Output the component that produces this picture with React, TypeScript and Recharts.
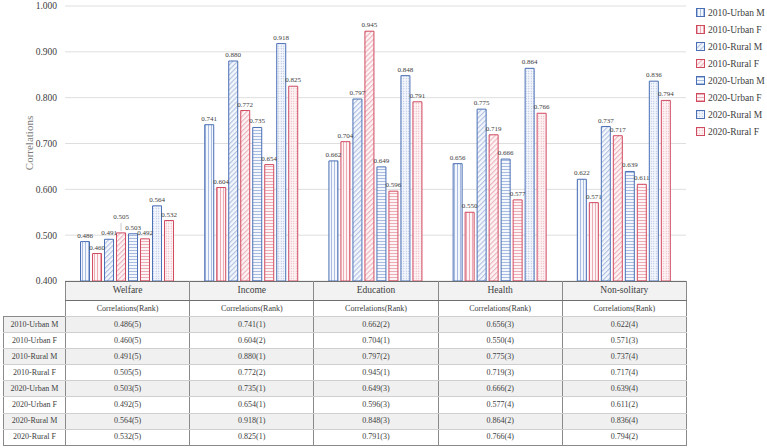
import { BarChart, Bar, YAxis, XAxis, CartesianGrid, LabelList } from 'recharts'

const categories = ['Welfare', 'Income', 'Education', 'Health', 'Non-solitary']
const seriesNames = [
  '2010-Urban M',
  '2010-Urban F',
  '2010-Rural M',
  '2010-Rural F',
  '2020-Urban M',
  '2020-Urban F',
  '2020-Rural M',
  '2020-Rural F',
]

const urbanM2010 = [0.486, 0.741, 0.662, 0.656, 0.622]
const urbanF2010 = [0.46, 0.604, 0.704, 0.55, 0.571]
const ruralM2010 = [0.491, 0.88, 0.797, 0.775, 0.737]
const ruralF2010 = [0.505, 0.772, 0.945, 0.719, 0.717]
const urbanM2020 = [0.503, 0.735, 0.649, 0.666, 0.639]
const urbanF2020 = [0.492, 0.654, 0.596, 0.577, 0.611]
const ruralM2020 = [0.564, 0.918, 0.848, 0.864, 0.836]
const ruralF2020 = [0.532, 0.825, 0.791, 0.766, 0.794]

const seriesValues = [urbanM2010, urbanF2010, ruralM2010, ruralF2010, urbanM2020, urbanF2020, ruralM2020, ruralF2020]

const seriesRanks = [
  [5, 1, 2, 3, 4],
  [5, 2, 1, 4, 3],
  [5, 1, 2, 3, 4],
  [5, 2, 1, 3, 4],
  [5, 1, 3, 2, 4],
  [5, 1, 3, 4, 2],
  [5, 1, 3, 2, 4],
  [5, 1, 3, 4, 2],
]

const yTicks = [0.4, 0.5, 0.6, 0.7, 0.8, 0.9, 1.0]

const FONT = '"Liberation Serif", "Times New Roman", serif'
const BLUE = '#4a6fb5'
const RED = '#d04a60'
const BLUE_LIGHT = '#9fb4dd'
const RED_LIGHT = '#eba3ae'
const BLUE_BG = '#f4f7fc'
const RED_BG = '#fdf4f5'

const seriesColor = (i: number) => (i % 2 === 0 ? 'b' : 'r')
const seriesPattern = ['vline', 'vline', 'diag', 'diag', 'hline', 'hline', 'dots', 'dots']

const data = categories.map((name, ci) => {
  const row: Record<string, string | number> = { name }
  seriesNames.forEach((s, si) => {
    row[s] = seriesValues[si][ci]
  })
  return row
})

// a label is lifted (with a leader line) when it is a local peak that crowds a neighbour
const CLASH = 0.0175
function isLifted(si: number, ci: number) {
  const v = seriesValues[si][ci]
  const prev = si > 0 ? seriesValues[si - 1][ci] : -1
  const next = si < seriesValues.length - 1 ? seriesValues[si + 1][ci] : -1
  const crowds = Math.abs(v - prev) < CLASH || Math.abs(v - next) < CLASH
  return crowds && v >= prev && v >= next
}

function makeLabel(si: number) {
  return function BarLabel(props: any) {
    const { x, y, width, value, index } = props
    const cx = Number(x) + Number(width) / 2
    const top = Number(y)
    const lift = isLifted(si, index) ? 10 : 0
    return (
      <g>
        {lift > 0 && <line x1={cx} y1={top - 2} x2={cx} y2={top - 2 - lift + 2} stroke="#a6a6a6" strokeWidth={0.6} />}
        <text
          x={cx}
          y={top - 4 - lift}
          textAnchor="middle"
          fontSize={7}
          fill="#404040"
          fontFamily={FONT}
        >
          {Number(value).toFixed(3)}
        </text>
      </g>
    )
  }
}

function Patterns() {
  const sets = [
    { k: 'b', fg: BLUE_LIGHT, bg: BLUE_BG },
    { k: 'r', fg: RED_LIGHT, bg: RED_BG },
  ]
  return (
    <svg width={0} height={0} style={{ position: 'absolute' }}>
      <defs>
        {sets.map((s) => (
          <g key={s.k}>
            <pattern id={`vline-${s.k}`} width={3} height={3} patternUnits="userSpaceOnUse">
              <rect width={3} height={3} fill={s.bg} />
              <line x1={1.5} y1={0} x2={1.5} y2={3} stroke={s.fg} strokeWidth={0.9} />
            </pattern>
            <pattern id={`hline-${s.k}`} width={3} height={3} patternUnits="userSpaceOnUse">
              <rect width={3} height={3} fill={s.bg} />
              <line x1={0} y1={1.5} x2={3} y2={1.5} stroke={s.fg} strokeWidth={0.9} />
            </pattern>
            <pattern
              id={`diag-${s.k}`}
              width={3.5}
              height={3.5}
              patternUnits="userSpaceOnUse"
              patternTransform="rotate(45)"
            >
              <rect width={3.5} height={3.5} fill={s.bg} />
              <line x1={1.5} y1={0} x2={1.5} y2={3.5} stroke={s.fg} strokeWidth={0.9} />
            </pattern>
            <pattern id={`dots-${s.k}`} width={2.5} height={2.5} patternUnits="userSpaceOnUse">
              <rect width={2.5} height={2.5} fill={s.bg} />
              <circle cx={1.25} cy={1.25} r={0.55} fill={s.fg} />
            </pattern>
          </g>
        ))}
      </defs>
    </svg>
  )
}

const border = '1px solid #8a8a8a'
const lightBorder = '1px solid #cfcfcf'

export default function App() {
  return (
    <div style={{ position: 'relative', width: 767, height: 448, background: '#fff', fontFamily: FONT }}>
      <style>{'body{margin:0}'}</style>
      <Patterns />

      <BarChart
        width={767}
        height={290}
        data={data}
        margin={{ top: 6, right: 81, left: 0, bottom: 9 }}
        barCategoryGap="12.5%"
        barGap={3}
        style={{ position: 'absolute', left: 0, top: 0 }}
      >
        <CartesianGrid vertical={false} stroke="#dedede" />
        <XAxis dataKey="name" hide />
        <YAxis
          width={65}
          domain={[0.4, 1.0]}
          ticks={yTicks}
          axisLine={false}
          tickLine={false}
          tickFormatter={(v: number) => v.toFixed(3)}
          tick={{ fontSize: 9.5, fill: '#404040', fontFamily: FONT }}
        />
        {seriesNames.map((s, i) => (
          <Bar
            key={s}
            dataKey={s}
            fill={`url(#${seriesPattern[i]}-${seriesColor(i)})`}
            stroke={i % 2 === 0 ? BLUE : RED}
            strokeWidth={1}
            isAnimationActive={false}
          >
            <LabelList dataKey={s} content={makeLabel(i)} />
          </Bar>
        ))}
      </BarChart>

      <div
        style={{
          position: 'absolute',
          left: 29,
          top: 143,
          transform: 'translate(-50%, -50%) rotate(-90deg)',
          fontSize: 11,
          color: '#7a7a7a',
          whiteSpace: 'nowrap',
        }}
      >
        Correlations
      </div>

      {/* Legend */}
      <div style={{ position: 'absolute', left: 696, top: 4 }}>
        {seriesNames.map((s, i) => (
          <div key={s} style={{ display: 'flex', alignItems: 'center', height: 17 }}>
            <svg width={9} height={9} style={{ marginRight: 3 }}>
              <rect
                x={0.5}
                y={0.5}
                width={8}
                height={8}
                fill={`url(#${seriesPattern[i]}-${seriesColor(i)})`}
                stroke={i % 2 === 0 ? BLUE : RED}
              />
            </svg>
            <span style={{ fontSize: 9.5, color: '#404040', whiteSpace: 'nowrap' }}>{s}</span>
          </div>
        ))}
      </div>

      {/* Data table */}
      <table
        style={{
          position: 'absolute',
          left: 3,
          top: 281,
          width: 683,
          borderCollapse: 'collapse',
          tableLayout: 'fixed',
          color: '#404040',
          fontFamily: FONT,
        }}
      >
        <colgroup>
          <col style={{ width: 62 }} />
          {categories.map((c) => (
            <col key={c} style={{ width: 124.2 }} />
          ))}
        </colgroup>
        <tbody>
          <tr style={{ height: 19 }}>
            <td style={{ padding: 0 }} />
            {categories.map((c) => (
              <td
                key={c}
                style={{
                  padding: 0,
                  background: '#f2f2f2',
                  borderTop: '1.5px solid #6f6f6f',
                  borderLeft: border,
                  borderRight: border,
                  borderBottom: '1.5px solid #6f6f6f',
                  textAlign: 'center',
                  fontSize: 9.5,
                  lineHeight: '1',
                }}
              >
                {c}
              </td>
            ))}
          </tr>
          <tr style={{ height: 16 }}>
            <td style={{ padding: 0 }} />
            {categories.map((c) => (
              <td
                key={c}
                style={{
                  padding: 0,
                  borderLeft: border,
                  borderRight: border,
                  borderBottom: lightBorder,
                  textAlign: 'center',
                  fontSize: 8,
                  lineHeight: '1',
                }}
              >
                Correlations(Rank)
              </td>
            ))}
          </tr>
          {seriesNames.map((s, si) => (
            <tr key={s} style={{ height: 16.1, background: si % 2 === 0 ? '#f0f0f0' : '#fff' }}>
              <td
                style={{
                  padding: 0,
                  borderLeft: border,
                  borderRight: border,
                  borderTop: si === 0 ? border : lightBorder,
                  borderBottom: si === seriesNames.length - 1 ? border : lightBorder,
                  textAlign: 'center',
                  fontSize: 8,
                  lineHeight: '1',
                  whiteSpace: 'nowrap',
                }}
              >
                {s}
              </td>
              {categories.map((c, ci) => (
                <td
                  key={c}
                  style={{
                    padding: 0,
                    borderLeft: border,
                    borderRight: border,
                    borderBottom: si === seriesNames.length - 1 ? border : lightBorder,
                    textAlign: 'center',
                    fontSize: 8,
                    lineHeight: '1',
                  }}
                >
                  {`${seriesValues[si][ci].toFixed(3)}(${seriesRanks[si][ci]})`}
                </td>
              ))}
            </tr>
          ))}
        </tbody>
      </table>
    </div>
  )
}
